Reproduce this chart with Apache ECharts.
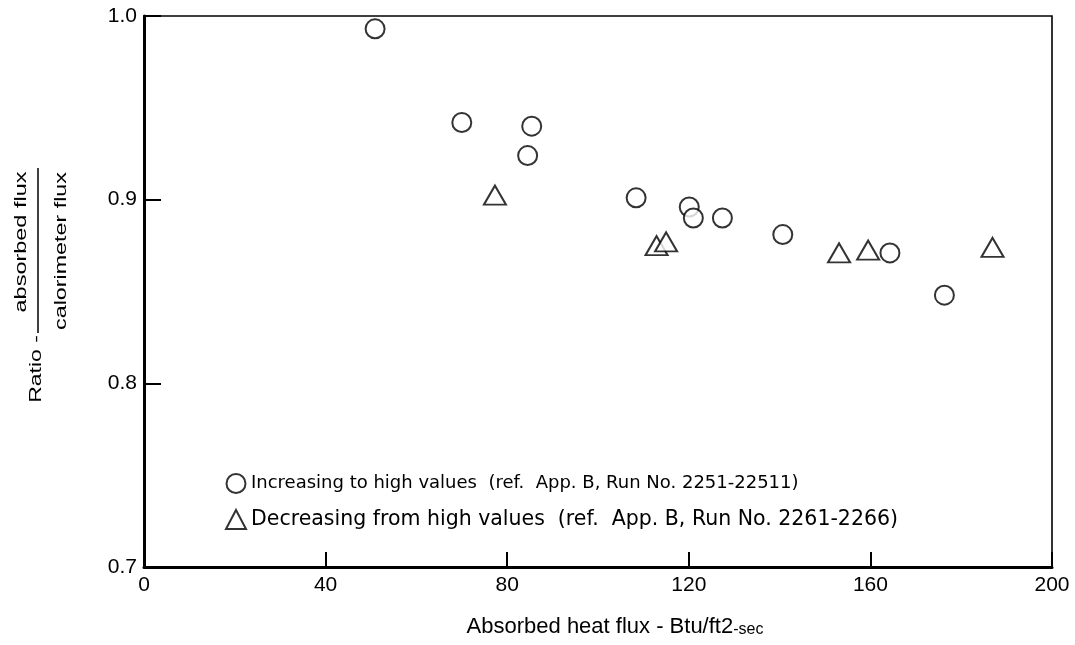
<!DOCTYPE html>
<html>
<head>
<meta charset="utf-8">
<script src="https://cdn.jsdelivr.net/npm/echarts@6/dist/echarts.min.js"></script>
<style>html,body{margin:0;padding:0;background:#fff;}#chart{width:1075px;height:645px;}</style>
</head>
<body>
<div id="chart"></div>
<script>
// Series: increasing to high values (circles)
const increasingX = [50.9, 70.0, 84.5, 85.4, 108.4, 120.1, 121.0, 127.4, 140.7, 164.3, 176.3];
const increasingY = [0.993, 0.942, 0.924, 0.940, 0.901, 0.896, 0.890, 0.890, 0.881, 0.871, 0.848];
// Series: decreasing from high values (triangles)
const decreasingX = [77.3, 112.9, 115.0, 153.1, 159.5, 186.9];
const decreasingY = [0.9025, 0.875, 0.877, 0.871, 0.8725, 0.874];

const seriesNames = [
  'Increasing to high values  (ref.  App. B, Run No. 2251-22511)',
  'Decreasing from high values  (ref.  App. B, Run No. 2261-2266)'
];
const xTicks = [0, 40, 80, 120, 160, 200];
const yTicks = [0.7, 0.8, 0.9, 1.0];

const FONT = 'Liberation Sans, Arial, Helvetica, sans-serif';
const WIDE = 'DejaVu Sans, Liberation Sans, sans-serif';
const chart = echarts.init(document.getElementById('chart'), null, {renderer: 'canvas'});

const zip = (xs, ys) => xs.map((x, i) => [x, ys[i]]);

const option = {
  backgroundColor: '#ffffff',
  animation: false,
  textStyle: {fontFamily: FONT, color: '#000'},
  grid: {
    left: 144, right: 23, top: 16, bottom: 78,
    show: true, borderColor: '#000', borderWidth: 1.6, backgroundColor: 'transparent'
  },
  xAxis: {
    type: 'value',
    min: xTicks[0], max: xTicks[xTicks.length - 1], interval: 40,
    axisLine: {show: true, onZero: false, lineStyle: {color: '#000', width: 3}},
    axisTick: {show: true, inside: true, length: 15, lineStyle: {color: '#000', width: 2}},
    splitLine: {show: false},
    axisLabel: {fontSize: 21, color: '#000', margin: 8, fontFamily: FONT},
    name: '{m|Absorbed heat flux - Btu/ft2}{s|-sec}',
    nameLocation: 'middle',
    nameGap: 49,
    nameTextStyle: {
      padding: [0, 0, 0, 34],
      rich: {
        m: {fontSize: 22, color: '#000', fontFamily: FONT},
        s: {fontSize: 16, color: '#000', fontFamily: FONT, padding: [5, 0, 0, 0]}
      }
    }
  },
  yAxis: {
    type: 'value',
    min: yTicks[0], max: yTicks[yTicks.length - 1], interval: 0.1,
    axisLine: {show: true, onZero: false, lineStyle: {color: '#000', width: 3}},
    axisTick: {show: true, inside: true, length: 17, lineStyle: {color: '#000', width: 2}},
    splitLine: {show: false},
    axisLabel: {fontSize: 21, color: '#000', margin: 7, fontFamily: FONT,
      formatter: v => v.toFixed(1)}
  },
  legend: {
    orient: 'vertical',
    left: 220, top: 468,
    itemWidth: 20, itemHeight: 19, itemGap: 15,
    textStyle: {fontSize: 18, color: '#000', fontFamily: WIDE,
      rich: {
        a: {fontSize: 18, color: '#000', fontFamily: WIDE},
        b: {fontSize: 20.5, color: '#000', fontFamily: WIDE}
      }
    },
    formatter: name => (name === seriesNames[0] ? '{a|' : '{b|') + name + '}',
    data: seriesNames
  },
  series: [
    {
      name: seriesNames[0],
      type: 'scatter',
      symbol: 'emptyCircle',
      symbolSize: 19,
      itemStyle: {color: '#000', borderColor: '#000', borderWidth: 2.5},
      data: zip(increasingX, increasingY)
    },
    {
      name: seriesNames[1],
      type: 'scatter',
      symbol: 'emptyTriangle',
      symbolSize: [22, 19],
      itemStyle: {color: '#000', borderColor: '#000', borderWidth: 2.8},
      data: zip(decreasingX, decreasingY)
    }
  ],
  graphic: [
    {type: 'text', x: 36, y: 369, rotation: Math.PI / 2, scaleX: 1.35,
      style: {text: 'Ratio -', font: '17px ' + FONT, fill: '#000', align: 'center', verticalAlign: 'middle'}},
    {type: 'text', x: 21, y: 242, rotation: Math.PI / 2, scaleX: 1.38,
      style: {text: 'absorbed flux', font: '17px ' + FONT, fill: '#000', align: 'center', verticalAlign: 'middle'}},
    {type: 'line', shape: {x1: 38, y1: 168, x2: 38, y2: 333}, style: {stroke: '#000', lineWidth: 1.5}},
    {type: 'text', x: 61, y: 251, rotation: Math.PI / 2, scaleX: 1.37,
      style: {text: 'calorimeter flux', font: '17px ' + FONT, fill: '#000', align: 'center', verticalAlign: 'middle'}}
  ]
};
chart.setOption(option);
</script>
</body>
</html>
